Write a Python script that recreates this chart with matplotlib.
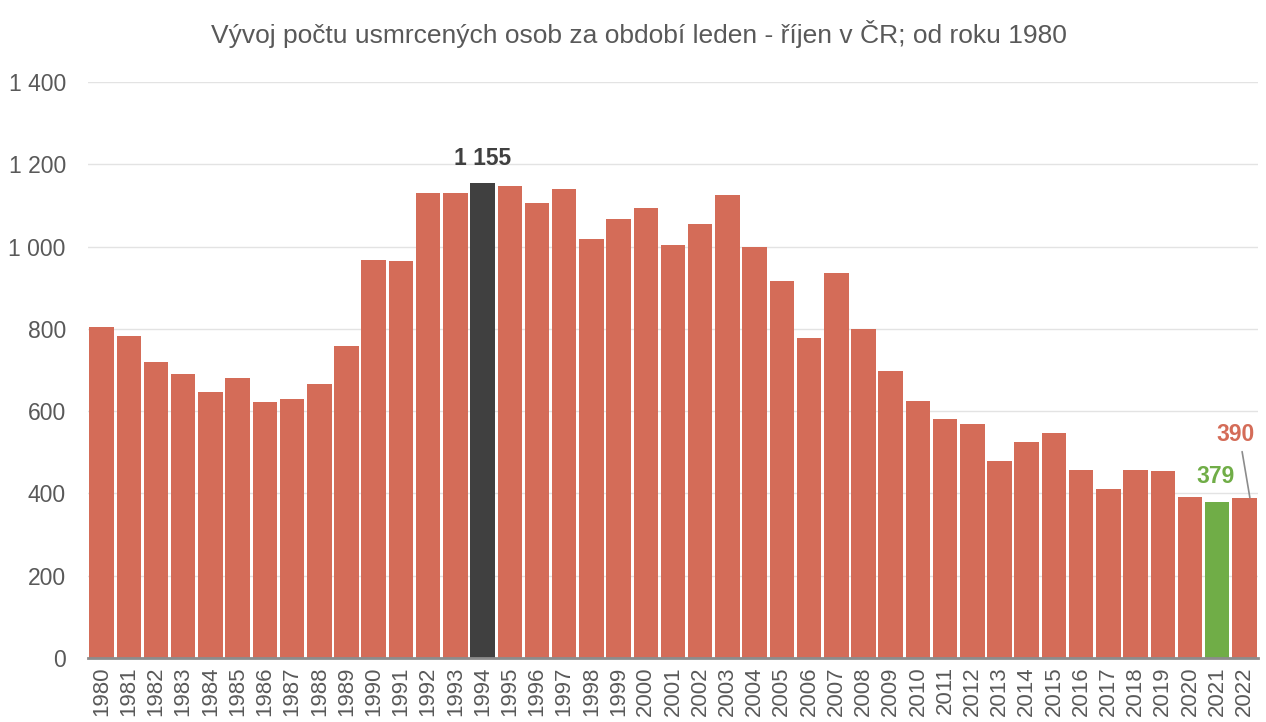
import matplotlib
matplotlib.use("Agg")
import matplotlib.pyplot as plt
import numpy as np

years = list(range(1980, 2023))
values = [804, 782, 720, 690, 646, 681, 622, 629, 665, 758,
          968, 964, 1131, 1131, 1155, 1148, 1105, 1140, 1018, 1068,
          1093, 1004, 1054, 1125, 998, 916, 779, 936, 800, 697,
          624, 580, 568, 480, 526, 548, 456, 412, 456, 455,
          391, 379, 390]
yticks = [0, 200, 400, 600, 800, 1000, 1200, 1400]
title = "Vývoj počtu usmrcených osob za období leden - říjen v ČR; od roku 1980"

font = "Liberation Sans"

c_main = "#D46C58"
c_max = "#404040"
c_green = "#70AD47"
colors = [c_main] * len(years)
colors[years.index(1994)] = c_max
colors[years.index(2021)] = c_green

fig = plt.figure(figsize=(12.66, 7.22), dpi=100)
ax = fig.add_axes([0.0695, 0.0886, 0.9242, 0.7978])
x = np.arange(len(years))
ax.bar(x, values, width=0.9, color=colors, edgecolor="none", zorder=3)
ax.set_xlim(-0.5, len(years) - 0.5)
ax.set_ylim(0, 1400)
ax.set_yticks(yticks)
ax.set_yticklabels([f"{v:,}".replace(",", " ") for v in yticks],
                   fontfamily=font, fontsize=16.5, color="#595959")
ax.set_xticks(x)
ax.set_xticklabels([str(y) for y in years], rotation=90, fontfamily=font,
                   fontsize=16, color="#595959")
ax.tick_params(axis="both", length=0)
ax.tick_params(axis="y", pad=16)
ax.tick_params(axis="x", pad=6)
ax.grid(axis="y", color="#E3E3E3", linewidth=1, zorder=0)
for s in ["top", "right", "left"]:
    ax.spines[s].set_visible(False)
ax.spines["bottom"].set_color("#8C8C8C")
ax.spines["bottom"].set_linewidth(2)
ax.spines["bottom"].set_zorder(4)

fig.suptitle(title, fontfamily=font, fontsize=19, color="#595959", x=0.505, y=0.972)

i94 = years.index(1994)
ax.text(i94, values[i94] + 30, "1 155", ha="center", va="bottom", fontfamily=font,
        fontsize=16.5, fontweight="bold", color="#404040")
i21 = years.index(2021)
ax.text(i21 - 0.07, values[i21] + 35, "379", ha="center", va="bottom", fontfamily=font,
        fontsize=16.5, fontweight="bold", color=c_green)
i22 = years.index(2022)
ax.annotate("390", xy=(i22 + 0.2, values[i22]), xytext=(i22 - 0.33, values[i22] + 125),
            ha="center", va="bottom", fontfamily=font, fontsize=16.5, fontweight="bold",
            color=c_main,
            arrowprops=dict(arrowstyle="-", color="#8C8C8C", lw=1.2, shrinkA=2, shrinkB=0,
                            relpos=(0.65, 0.0)))

fig.savefig("out.png", dpi=100)
